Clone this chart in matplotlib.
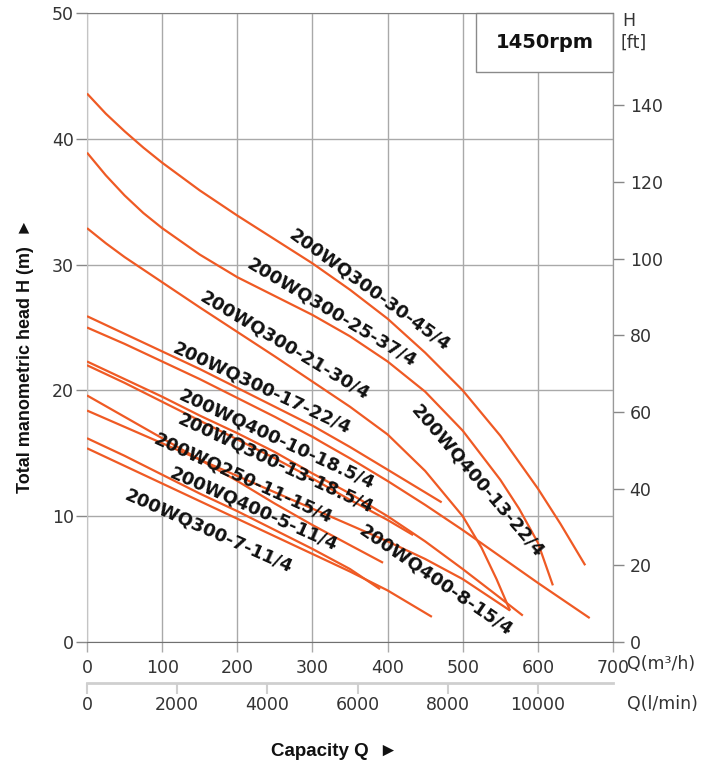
import numpy as np
import matplotlib.pyplot as plt
from matplotlib.patches import Rectangle

# pump curves: capacity Q (m3/h) and head H (m)
q_300_30 = [0, 25, 50, 75, 100, 150, 200, 250, 300, 350, 400, 450, 500, 550, 600, 630, 663]
h_300_30 = [43.6, 42.0, 40.6, 39.3, 38.1, 35.9, 33.9, 32.0, 30.1, 28.0, 25.7, 23.0, 20.0, 16.4, 12.2, 9.4, 6.1]

q_300_25 = [0, 25, 50, 75, 100, 150, 200, 250, 300, 350, 400, 450, 500, 550, 575, 600, 620]
h_300_25 = [38.9, 37.1, 35.5, 34.1, 32.9, 30.8, 29.0, 27.5, 26.0, 24.3, 22.3, 19.9, 16.8, 12.9, 10.6, 7.9, 4.5]

q_300_21 = [0, 25, 50, 75, 100, 150, 200, 250, 300, 350, 400, 450, 500, 525, 545, 563]
h_300_21 = [32.9, 31.7, 30.6, 29.6, 28.6, 26.6, 24.65, 22.7, 20.7, 18.7, 16.5, 13.6, 10.0, 7.5, 5.0, 2.5]

q_300_17 = [0, 50, 100, 150, 200, 250, 300, 350, 400, 472]
h_300_17 = [25.9, 24.5, 23.1, 21.7, 20.2, 18.7, 17.2, 15.5, 13.7, 11.1]

q_400_13 = [0, 50, 100, 150, 200, 250, 300, 350, 400, 450, 500, 550, 600, 669]
h_400_13 = [25.0, 23.7, 22.3, 20.9, 19.4, 17.9, 16.3, 14.6, 12.8, 10.9, 8.9, 6.8, 4.7, 1.9]

q_400_10 = [0, 50, 100, 150, 200, 250, 300, 350, 400, 450, 500, 550, 580]
h_400_10 = [22.3, 20.9, 19.5, 18.0, 16.6, 15.1, 13.4, 11.8, 10.0, 8.0, 5.8, 3.5, 2.1]

q_300_13 = [0, 50, 100, 150, 200, 250, 300, 350, 400, 434]
h_300_13 = [22.0, 20.6, 19.1, 17.6, 16.1, 14.6, 13.0, 11.3, 9.7, 8.5]

q_250_11 = [0, 50, 100, 150, 200, 250, 300, 350, 394]
h_250_11 = [19.6, 17.9, 16.2, 14.5, 12.8, 11.0, 9.3, 7.7, 6.3]

q_400_8 = [0, 50, 100, 150, 200, 250, 300, 350, 400, 450, 500, 563]
h_400_8 = [18.4, 17.1, 15.8, 14.5, 13.2, 11.9, 10.6, 9.3, 8.0, 6.6, 5.0, 2.5]

q_300_7 = [0, 50, 100, 150, 200, 250, 300, 350, 390]
h_300_7 = [16.2, 14.8, 13.3, 11.8, 10.4, 8.9, 7.4, 5.8, 4.2]

q_400_5 = [0, 50, 100, 150, 200, 250, 300, 350, 400, 459]
h_400_5 = [15.4, 14.0, 12.6, 11.2, 9.8, 8.4, 7.0, 5.6, 4.1, 2.0]

curves = [
    ('200WQ300-30-45/4', q_300_30, h_300_30),
    ('200WQ300-25-37/4', q_300_25, h_300_25),
    ('200WQ300-21-30/4', q_300_21, h_300_21),
    ('200WQ300-17-22/4', q_300_17, h_300_17),
    ('200WQ400-13-22/4', q_400_13, h_400_13),
    ('200WQ400-10-18.5/4', q_400_10, h_400_10),
    ('200WQ300-13-18.5/4', q_300_13, h_300_13),
    ('200WQ250-11-15/4', q_250_11, h_250_11),
    ('200WQ400-8-15/4', q_400_8, h_400_8),
    ('200WQ300-7-11/4', q_300_7, h_300_7),
    ('200WQ400-5-11/4', q_400_5, h_400_5),
]

# where the model names sit (Q, H, angle in degrees)
label_pos = {
    '200WQ300-30-45/4': (376, 28.0, -36),
    '200WQ300-25-37/4': (326, 26.2, -31),
    '200WQ300-21-30/4': (263, 23.6, -31),
    '200WQ300-17-22/4': (232, 20.2, -25),
    '200WQ400-10-18.5/4': (253, 16.1, -25),
    '200WQ300-13-18.5/4': (251, 14.2, -25),
    '200WQ250-11-15/4': (208, 13.0, -24.5),
    '200WQ400-5-11/4': (222, 10.6, -24),
    '200WQ300-7-11/4': (162, 8.8, -24),
    '200WQ400-8-15/4': (464, 4.9, -34.5),
    '200WQ400-13-22/4': (520, 12.8, -49.5),
}

W, H = 703, 768


def fx(x):
    return x / W


def fy(y):
    return 1 - y / H


orange = '#EF5A24'
grid_c = '#a9a9a9'
tick_c = '#333333'

fig = plt.figure(figsize=(W / 100, H / 100), dpi=100)
ax = fig.add_axes([fx(87), fy(642), (613 - 87) / W, (642 - 13) / H])
ax.set_xlim(0, 700)
ax.set_ylim(0, 50)

ax.set_xticks(range(0, 701, 100))
ax.set_yticks(range(0, 51, 10))
ax.grid(True, color=grid_c, lw=1.0, zorder=0)
ax.set_axisbelow(True)

ax.spines['top'].set_color('#808080')
ax.spines['bottom'].set_color('#707070')
ax.spines['left'].set_color('#c4c4c4')
ax.spines['right'].set_color('#999999')

ax.tick_params(axis='x', direction='out', length=7, width=1, color='#aaaaaa',
               labelsize=12.5, labelcolor=tick_c, pad=5)
ax.tick_params(axis='y', direction='out', length=8, width=1, color='#888888',
               labelsize=12.5, labelcolor=tick_c, pad=1.5)

# curves
for name, q, h in curves:
    ax.plot(q, h, color=orange, lw=1.6, solid_joinstyle='round',
            solid_capstyle='butt', zorder=3)

for name, q, h in curves:
    x, y, ang = label_pos[name]
    ax.text(x, y, name, rotation=ang, rotation_mode='anchor', ha='center',
            va='center', fontsize=13, fontweight='bold', color='#111111',
            zorder=4)

# rpm box in the corner
ax.add_patch(Rectangle((517.7, 45.3), 700 - 517.7, 4.7, facecolor='white',
                       edgecolor='#8a8a8a', lw=1.0, zorder=2.5, clip_on=False))
ax.text(608.85, 47.65, '1450rpm', ha='center', va='center', fontsize=14,
        fontweight='bold', color='#111111', zorder=4)

# right axis in feet
secy = ax.secondary_yaxis('right', functions=(lambda m: m * 3.2808,
                                              lambda f: f / 3.2808))
secy.set_yticks(range(0, 141, 20))
secy.tick_params(direction='out', length=8, width=1, color='#888888',
                 labelsize=12.5, labelcolor=tick_c, pad=4)
secy.spines['right'].set_color('#999999')
fig.text(fx(622), fy(21), 'H', fontsize=12.5, color=tick_c, va='center', ha='left')
fig.text(fx(621), fy(43), '[ft]', fontsize=12.5, color=tick_c, va='center', ha='left')

# bottom axis in l/min
secx = ax.secondary_xaxis(-41 / 629, functions=(lambda q: q * 1000 / 60,
                                                 lambda l: l * 60 / 1000))
secx.set_xticks(range(0, 10001, 2000))
secx.spines['bottom'].set_color('#cfcfcf')
secx.spines['bottom'].set_linewidth(2)
secx.tick_params(direction='out', length=8, width=1.5, color='#cfcfcf',
                 labelsize=12.5, labelcolor=tick_c, pad=1.5)

fig.text(fx(627), fy(664), 'Q(m³/h)', fontsize=12.5, color=tick_c, va='center', ha='left')
fig.text(fx(627), fy(704), 'Q(l/min)', fontsize=12.5, color=tick_c, va='center', ha='left')

lab_font = ['Liberation Sans Narrow', 'Liberation Sans', 'DejaVu Sans']
fig.text(fx(334), fy(752), 'Capacity Q  \u25ba', family=lab_font, fontsize=13.5,
         fontweight='bold', ha='center', va='center', color='#111111')
fig.text(fx(26), fy(356), 'Total manometric head H (m)  \u25ba', family=lab_font,
         fontsize=13, fontweight='bold', rotation=90, ha='center', va='center',
         color='#111111')

fig.savefig('out.png', dpi=100)
